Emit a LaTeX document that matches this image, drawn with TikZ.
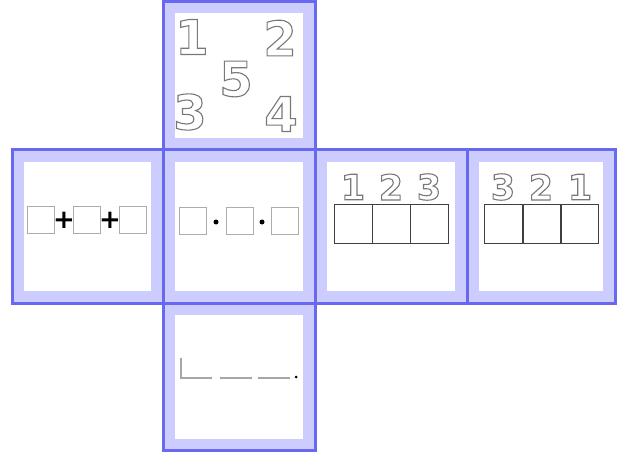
\documentclass[tikz,border=0pt]{standalone}
\usepackage{fontspec}
\usetikzlibrary{positioning}
\newfontfamily\digitfont{DejaVu Sans}
\definecolor{netblue}{RGB}{104,104,240}
\definecolor{netlav}{RGB}{204,204,255}
\definecolor{outlinegray}{RGB}{120,120,120}
% hollow digits: stroke the glyph outline only
\newcommand\hollow[1]{\special{pdf:code 1 Tr 1.1 w}#1\special{pdf:code 0 Tr}}

\begin{document}
\begin{tikzpicture}[x=1pt,y=-1pt,
  face/.style={draw=netblue, line width=3pt, fill=netlav},
  facein/.style={fill=white},
  bigdigit/.style={inner sep=0pt, text=outlinegray, font=\digitfont\bfseries\fontsize{48}{48}\selectfont},
  smalldigit/.style={inner sep=0pt, text=outlinegray, font=\digitfont\bfseries\fontsize{35}{35}\selectfont},
  slot/.style={draw=gray!65, line width=0.7pt, fill=white, minimum size=27pt, inner sep=0pt},
  cellbox/.style={draw=black!75, line width=0.8pt, minimum width=38pt, minimum height=39pt, inner sep=0pt},
  op/.style={inner sep=0pt, font=\digitfont\bfseries\fontsize{26}{26}\selectfont},
  dot/.style={circle, fill=black, inner sep=0pt, minimum size=5pt},
  blank/.style={draw=gray!70, line width=1.1pt}
]
\useasboundingbox (0,0) rectangle (625,452);

% faces of the net
\foreach \xa/\ya/\xb/\yb in {163/1.5/315/150, 12/150/163/303, 163/150/315/303,
                             315/150/467/303, 467/150/615/303, 163/303/315/450.5} {
  \draw[face] (\xa,\ya) rectangle (\xb,\yb);
  \fill[facein] (\xa+12,\ya+12) rectangle (\xb-12,\yb-12);
}

% top face: scattered digits
\node[bigdigit] (d1) at (192,37)  {\hollow{1}};
\node[bigdigit] (d2) at (280,38)  {\hollow{2}};
\node[bigdigit] (d5) at (236,79)  {\hollow{5}};
\node[bigdigit] (d3) at (190,112) {\hollow{3}};
\node[bigdigit] (d4) at (281,114) {\hollow{4}};

% left face: sum of three slots
\node[slot] (s1) at (41,220)  {};
\node[slot] (s2) at (87,220)  {};
\node[slot] (s3) at (133,220) {};
\node[op] (plusa) at (64,220)  {+};
\node[op] (plusb) at (110,220) {+};

% front face: product of three slots
\node[slot] (t1) at (192.5,220.5) {};
\node[slot] (t2) at (239.5,220.5) {};
\node[slot] (t3) at (285,220.5)   {};
\node[dot] (dota) at (216,222) {};
\node[dot] (dotb) at (262,222) {};

% right face: boxes 1 2 3
\node[cellbox] (a1) at (353,223.5) {};
\node[cellbox] (a2) at (391,223.5) {};
\node[cellbox] (a3) at (429,223.5) {};
\node[smalldigit] (n1) at (353,187) {\hollow{1}};
\node[smalldigit] (n2) at (391,187) {\hollow{2}};
\node[smalldigit] (n3) at (429,187) {\hollow{3}};

% back face: boxes 3 2 1
\node[cellbox] (b1) at (503.5,223.5) {};
\node[cellbox] (b2) at (542,223.5)   {};
\node[cellbox] (b3) at (579.5,223.5) {};
\node[smalldigit] (m3) at (503,187) {\hollow{3}};
\node[smalldigit] (m2) at (541,187) {\hollow{2}};
\node[smalldigit] (m1) at (580,187) {\hollow{1}};

% bottom face: blanks for a number
\draw[blank] (181,358) -- (181,378) -- (212,378);
\draw[blank] (220,378) -- (252,378);
\draw[blank] (258,378) -- (290,378);
\node[dot, minimum size=3pt] (stop) at (296,377) {};
\end{tikzpicture}
\end{document}
